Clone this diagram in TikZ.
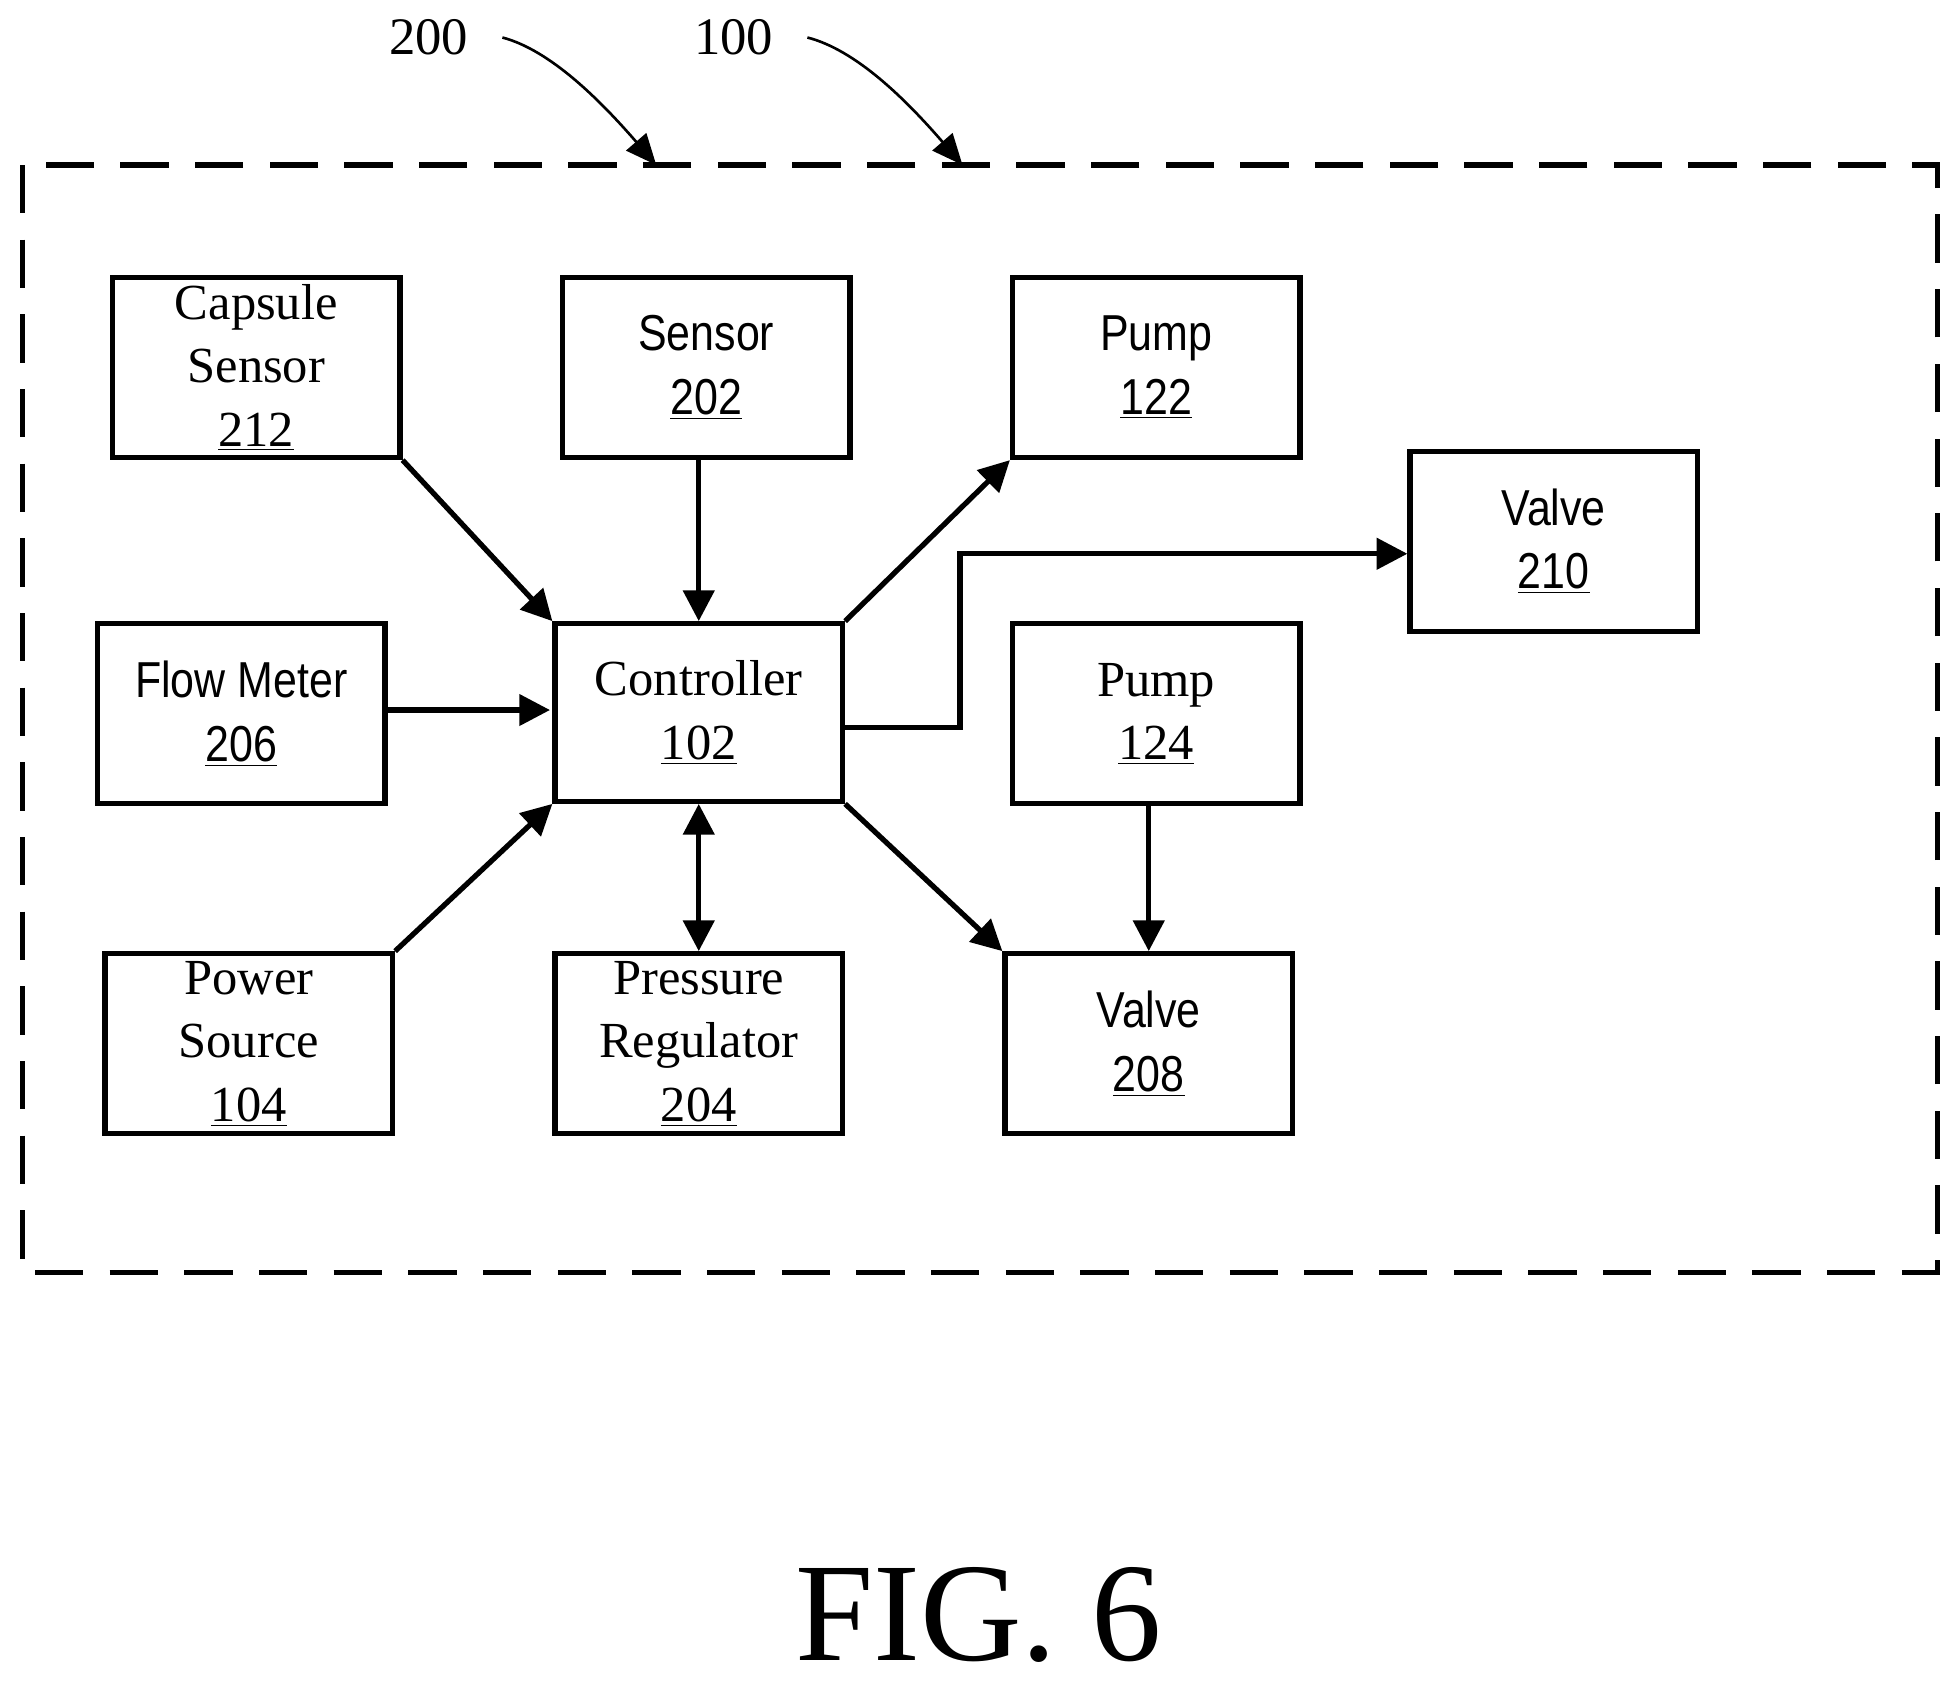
\documentclass[tikz,border=0pt]{standalone}
\usepackage{fontspec}
\setmainfont{Liberation Serif}
\newfontfamily\sansf[FakeStretch=0.85]{Liberation Sans}
\usetikzlibrary{arrows.meta}
\begin{document}
\begin{tikzpicture}[x=0.02cm,y=-0.02cm,
 box/.style={draw,line width=2.4pt,minimum width=4.6cm,minimum height=2.88cm,inner sep=0pt,align=center,font=\fontsize{23}{29}\selectfont},
 sbox/.style={box,font=\fontsize{23}{29}\selectfont\sansf},
 arr/.style={line width=2.4pt,-{Triangle[length=14pt,width=14pt]}}]
\useasboundingbox (0,0) rectangle (1568,1357);
\draw[line width=2.4pt,dash pattern=on 22pt off 12pt] (18,132) rectangle (1550,1018);
\node[box] (cs) at (205,294) {Capsule\\Sensor\\\underline{212}};
\node[sbox] (s) at (565,294) {Sensor\\\underline{202}};
\node[sbox] (p1) at (925,294) {Pump\\\underline{122}};
\node[sbox] (v2) at (1243,433) {Valve\\\underline{210}};
\node[sbox] (fm) at (193,571) {Flow Meter\\\underline{206}};
\node[box,minimum height=2.84cm] (c) at (559,570) {Controller\\\underline{102}};
\node[box] (p2) at (925,571) {Pump\\\underline{124}};
\node[box] (ps) at (199,835) {Power\\Source\\\underline{104}};
\node[box] (pr) at (559,835) {Pressure\\Regulator\\\underline{204}};
\node[sbox] (v1) at (919,835) {Valve\\\underline{208}};
\draw[arr] (cs.south east) -- (c.north west);
\draw[arr] (s.south -| c.north) -- (c.north);
\draw[arr] (c.north east) -- (p1.south west);
\draw[arr] (c.east |- 0,582) -- (768,582) -- (768,443) -- (v2.west |- 0,443);
\draw[arr] (fm.east |- 0,568) -- (440,568);
\draw[arr] (ps.north east) -- (c.south west);
\draw[arr,{Triangle[length=14pt,width=14pt]}-{Triangle[length=14pt,width=14pt]}] (c.south) -- (pr.north);
\draw[arr] (c.south east) -- (v1.north west);
\draw[arr] (p2.south -| v1.north) -- (v1.north);
\node[font=\fontsize{24}{28}\selectfont] (l200) at (343,30) {200};
\node[font=\fontsize{24}{28}\selectfont] (l100) at (587,30) {100};
\draw[line width=1.2pt,-{Triangle[length=14pt,width=12pt]}] ([xshift=12pt]l200.east) .. controls (440,40) and (480,80) .. (525,132);
\draw[line width=1.2pt,-{Triangle[length=14pt,width=12pt]}] ([xshift=12pt]l100.east) .. controls (685,40) and (725,80) .. (770,132);
\node[font=\fontsize{64}{72}\selectfont] (fig) at (783,1292) {FIG. 6};
\end{tikzpicture}
\end{document}
